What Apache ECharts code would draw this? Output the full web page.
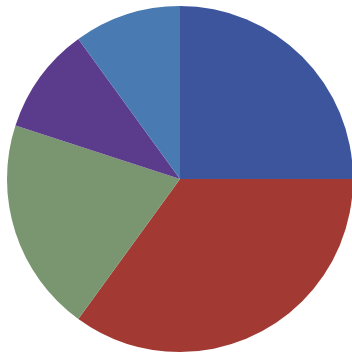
<!DOCTYPE html>
<html>
<head>
<meta charset="utf-8">
<style>
  html, body { margin: 0; padding: 0; background: #ffffff; }
  #chart { width: 352px; height: 358px; }
</style>
<script src="https://cdn.jsdelivr.net/npm/echarts@6/dist/echarts.min.js"></script>
</head>
<body>
<div id="chart"></div>
<script>
// Slice names and shares (percent), clockwise from 12 o'clock
const categories = ['A', 'B', 'C', 'D', 'E'];
const values = [25, 35, 20, 10, 10];
const colors = ['#3d559c', '#a23a33', '#7a9670', '#5b3b8c', '#4a7ab2'];

const chart = echarts.init(document.getElementById('chart'), null, { renderer: 'canvas' });
chart.setOption({
  backgroundColor: '#ffffff',
  animation: false,
  series: [{
    type: 'pie',
    center: [180, 179],
    radius: [0, 173],
    startAngle: 90,
    clockwise: true,
    label: { show: false },
    labelLine: { show: false },
    emphasis: { disabled: true },
    itemStyle: { borderWidth: 0 },
    data: categories.map((name, i) => ({
      name,
      value: values[i],
      itemStyle: { color: colors[i] }
    }))
  }]
});
</script>
</body>
</html>
